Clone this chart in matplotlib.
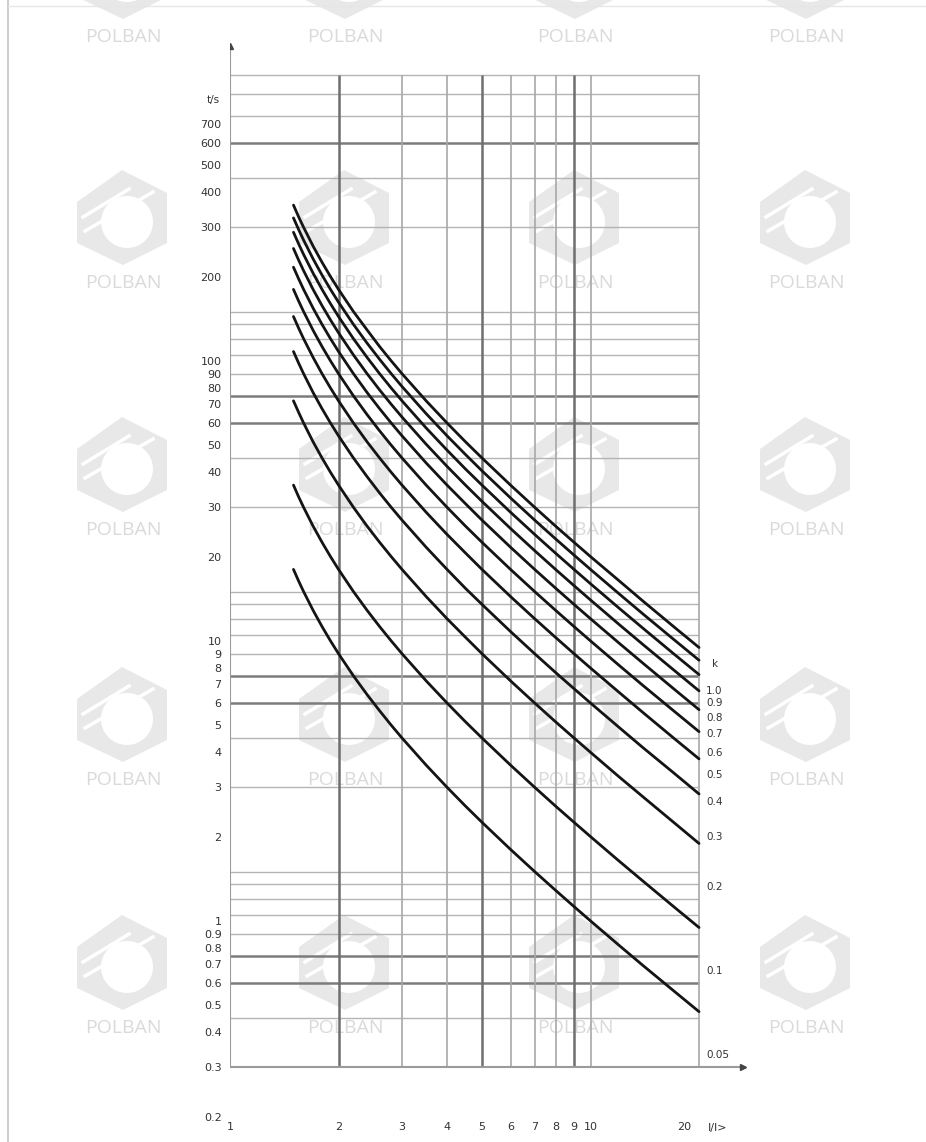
import numpy as np
import matplotlib
matplotlib.use("Agg")
import matplotlib.pyplot as plt
import matplotlib.patches as mpatches
from matplotlib.ticker import NullLocator
from matplotlib.transforms import ScaledTranslation

I_ratio = [1.5, 1.55, 1.6, 1.7, 1.8, 1.9, 2, 2.2, 2.4, 2.6, 2.8, 3, 3.5, 4, 4.5,
           5, 6, 7, 8, 9, 10, 12, 14, 17, 20]

# Operating time t/s for each time multiplier k
t_k100 = [360, 327, 300, 257, 225, 200, 180, 150, 129, 112.5, 100, 90, 72, 60, 51.4,
          45, 36, 30, 25.7, 22.5, 20, 16.4, 13.85, 11.25, 9.47]
t_k090 = [324, 294.5, 270, 231.4, 202.5, 180, 162, 135, 115.7, 101.3, 90, 81, 64.8, 54, 46.3,
          40.5, 32.4, 27, 23.14, 20.25, 18, 14.73, 12.46, 10.13, 8.53]
t_k080 = [288, 261.8, 240, 205.7, 180, 160, 144, 120, 102.9, 90, 80, 72, 57.6, 48, 41.1,
          36, 28.8, 24, 20.57, 18, 16, 13.09, 11.08, 9.0, 7.58]
t_k070 = [252, 229.1, 210, 180, 157.5, 140, 126, 105, 90, 78.75, 70, 63, 50.4, 42, 36,
          31.5, 25.2, 21, 18, 15.75, 14, 11.45, 9.69, 7.88, 6.63]
t_k060 = [216, 196.4, 180, 154.3, 135, 120, 108, 90, 77.1, 67.5, 60, 54, 43.2, 36, 30.9,
          27, 21.6, 18, 15.43, 13.5, 12, 9.82, 8.31, 6.75, 5.68]
t_k050 = [180, 163.6, 150, 128.6, 112.5, 100, 90, 75, 64.3, 56.25, 50, 45, 36, 30, 25.7,
          22.5, 18, 15, 12.86, 11.25, 10, 8.18, 6.92, 5.63, 4.74]
t_k040 = [144, 130.9, 120, 102.9, 90, 80, 72, 60, 51.4, 45, 40, 36, 28.8, 24, 20.6,
          18, 14.4, 12, 10.29, 9.0, 8.0, 6.55, 5.54, 4.5, 3.79]
t_k030 = [108, 98.2, 90, 77.1, 67.5, 60, 54, 45, 38.6, 33.75, 30, 27, 21.6, 18, 15.4,
          13.5, 10.8, 9.0, 7.71, 6.75, 6.0, 4.91, 4.15, 3.38, 2.84]
t_k020 = [72, 65.5, 60, 51.4, 45, 40, 36, 30, 25.7, 22.5, 20, 18, 14.4, 12, 10.3,
          9.0, 7.2, 6.0, 5.14, 4.5, 4.0, 3.27, 2.77, 2.25, 1.89]
t_k010 = [36, 32.7, 30, 25.7, 22.5, 20, 18, 15, 12.86, 11.25, 10, 9, 7.2, 6, 5.14,
          4.5, 3.6, 3.0, 2.57, 2.25, 2.0, 1.636, 1.385, 1.125, 0.947]
t_k005 = [18, 16.36, 15, 12.86, 11.25, 10, 9, 7.5, 6.43, 5.63, 5, 4.5, 3.6, 3, 2.57,
          2.25, 1.8, 1.5, 1.286, 1.125, 1.0, 0.818, 0.692, 0.563, 0.474]

k_labels = ['1.0', '0.9', '0.8', '0.7', '0.6', '0.5', '0.4', '0.3', '0.2', '0.1', '0.05']
curves = [t_k100, t_k090, t_k080, t_k070, t_k060, t_k050,
          t_k040, t_k030, t_k020, t_k010, t_k005]

# axis labels
ytick_vals = [0.2, 0.3, 0.4, 0.5, 0.6, 0.7, 0.8, 0.9, 1, 2, 3, 4, 5, 6, 7, 8, 9, 10,
              20, 30, 40, 50, 60, 70, 80, 90, 100, 200, 300, 400, 500, 600, 700]
ytick_labels = ['0.2', '0.3', '0.4', '0.5', '0.6', '0.7', '0.8', '0.9', '1', '2', '3', '4',
                '5', '6', '7', '8', '9', '10', '20', '30', '40', '50', '60', '70', '80',
                '90', '100', '200', '300', '400', '500', '600', '700']
xtick_vals = [1, 2, 3, 4, 5, 6, 7, 8, 9, 10, 20]
xtick_labels = ['1', '2', '3', '4', '5', '6', '7', '8', '9', '10', '20']

# grid of the printed chart paper
hgrid_thin = [0.45, 0.9, 1.05, 1.2, 1.35, 1.5, 3, 4.5, 9, 10.5, 12, 13.5, 15,
              30, 45, 90, 105, 120, 135, 150, 300, 450, 750, 900, 1050]
hgrid_thick = [0.6, 0.75, 6, 7.5, 60, 75, 600]
vgrid_thin = [3, 4, 6, 7, 8, 10, 20]
vgrid_thick = [2, 5, 9]

fig = plt.figure(figsize=(9.26, 11.42), dpi=100)

# background layer in pixel coordinates (watermarks, scan border)
bg = fig.add_axes([0, 0, 1, 1], zorder=0)
bg.set_xlim(0, 926)
bg.set_ylim(1142, 0)
bg.axis('off')

bg.plot([8, 8], [0, 1142], color='#c4c4c4', lw=1.2)
bg.plot([8, 926], [6, 6], color='#e6e6e6', lw=1.0)


def logo(cx, ty):
    hexa = [(-1, -113), (44, -90), (44, -40), (0, -18), (-46, -40), (-46, -81)]
    bg.add_patch(mpatches.Polygon([(cx + dx, ty + dy) for dx, dy in hexa],
                                  closed=True, facecolor='#e8e8e8', lw=0))
    bg.add_patch(mpatches.Circle((cx + 4, ty - 61), 26, facecolor='white', lw=0))
    bg.plot([cx - 40, cx + 6], [ty - 66, ty - 94], color='white', lw=2.5)
    bg.plot([cx - 38, cx + 30], [ty - 52, ty - 91], color='white', lw=2.5)
    bg.text(cx, ty, 'POLBAN', ha='center', va='center', fontsize=14,
            color='#dadada', family='Open Sans')


for ty in [37, 283, 530, 780, 1028]:
    for cx in [123, 345, 575, 806]:
        logo(cx, ty)

# chart
ax = fig.add_axes([230 / 926, 1 - 1120 / 1142, 520 / 926, 1080 / 1142], zorder=1)
ax.patch.set_alpha(0)
ax.set_xscale('log')
ax.set_yscale('log')
ax.set_xlim(1, 10 ** (520 / 360.5))
ax.set_ylim(6 * 10 ** (-417 / 280), 6 * 10 ** (663 / 280))
for s in ax.spines.values():
    s.set_visible(False)

ax.hlines(hgrid_thin, 1, 20, color='#b4b4b4', lw=1.0)
ax.hlines(hgrid_thick, 1, 20, color='#7c7c7c', lw=1.8)
ax.vlines(vgrid_thin, 0.3, 1050, color='#a8a8a8', lw=1.2)
ax.vlines(vgrid_thick, 0.3, 1050, color='#6e6e6e', lw=1.8)

# axes with arrows
ax.plot([1, 1], [0.3, 1330], color='#9a9a9a', lw=1.5)
ax.plot([1], [1330], marker='^', ms=4, color='#444444')
ax.plot([1, 26.5], [0.3, 0.3], color='#9a9a9a', lw=1.5)
ax.plot([26.5], [0.3], marker='>', ms=4, color='#444444')

for t, lab in zip(curves, k_labels):
    ax.plot(I_ratio, t, color='#141414', lw=2.0, solid_capstyle='round', solid_joinstyle='round')
    ax.annotate(lab, xy=(I_ratio[-1], t[-1]), xytext=(5, -31), textcoords='offset points',
                fontsize=7.5, color='#333333', ha='left', va='center')

ax.annotate('k', xy=(I_ratio[-1], t_k100[-1]), xytext=(9, -12), textcoords='offset points',
            fontsize=7.5, color='#333333', ha='left', va='center')

ax.set_yticks(ytick_vals)
ax.set_yticklabels(ytick_labels)
ax.set_xticks(xtick_vals)
ax.set_xticklabels(xtick_labels)
ax.xaxis.set_minor_locator(NullLocator())
ax.yaxis.set_minor_locator(NullLocator())
ax.tick_params(axis='y', length=0, pad=6, labelsize=8, labelcolor='#333333')
ax.tick_params(axis='x', length=0, pad=1.5, labelsize=8, labelcolor='#333333')
lab20 = ax.get_xticklabels()[-1]
lab20.set_transform(lab20.get_transform() + ScaledTranslation(-0.15, 0, fig.dpi_scale_trans))

fig.text(213 / 926, 1 - 100 / 1142, 't/s', ha='center', va='center', fontsize=7.5, color='#333333')
fig.text(718 / 926, 1 - 1128 / 1142, 'I/I>', ha='center', va='center', fontsize=8, color='#333333')

fig.savefig('out.png', dpi=100, facecolor='white')
